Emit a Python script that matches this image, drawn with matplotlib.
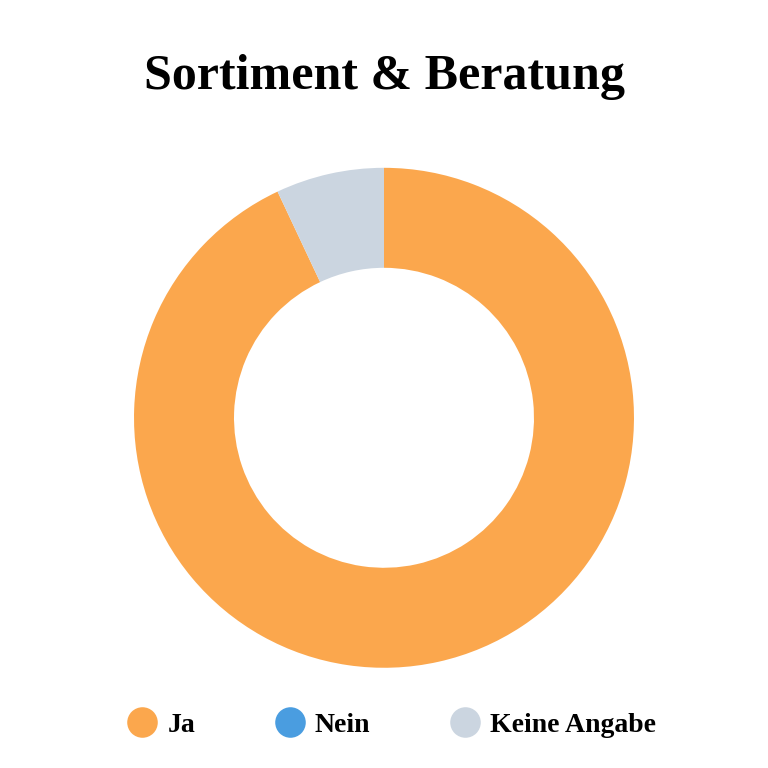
import matplotlib.pyplot as plt

labels = ["Ja", "Nein", "Keine Angabe"]
values = [93, 0, 7]
colors = ["#FBA74D", "#4A9DE0", "#CBD5E0"]

plt.rcParams['font.family'] = ['Liberation Serif', 'DejaVu Serif']

fig = plt.figure(figsize=(7.68, 7.68), dpi=100)
fig.text(0.5, 0.9, "Sortiment & Beratung", ha="center", va="center",
         fontsize=36, fontweight="bold")

ax = fig.add_axes([0.1745, 0.1305, 0.651, 0.651])
wedges, _ = ax.pie(values, colors=colors, startangle=90, counterclock=False,
                   wedgeprops=dict(width=0.4, linewidth=0))
ax.set_xlim(-1, 1)
ax.set_ylim(-1, 1)
ax.set_aspect("equal")

handles = [plt.Line2D([], [], marker="o", linestyle="", markersize=22,
                      markerfacecolor=c, markeredgewidth=0) for c in colors]
fig.legend(handles, labels, loc="center", bbox_to_anchor=(0.505, 0.056), ncol=3,
           frameon=False, prop=dict(size=20, weight="bold"),
           columnspacing=2.6, handletextpad=0.1, handlelength=1.6)

fig.savefig("out.png", dpi=100)
